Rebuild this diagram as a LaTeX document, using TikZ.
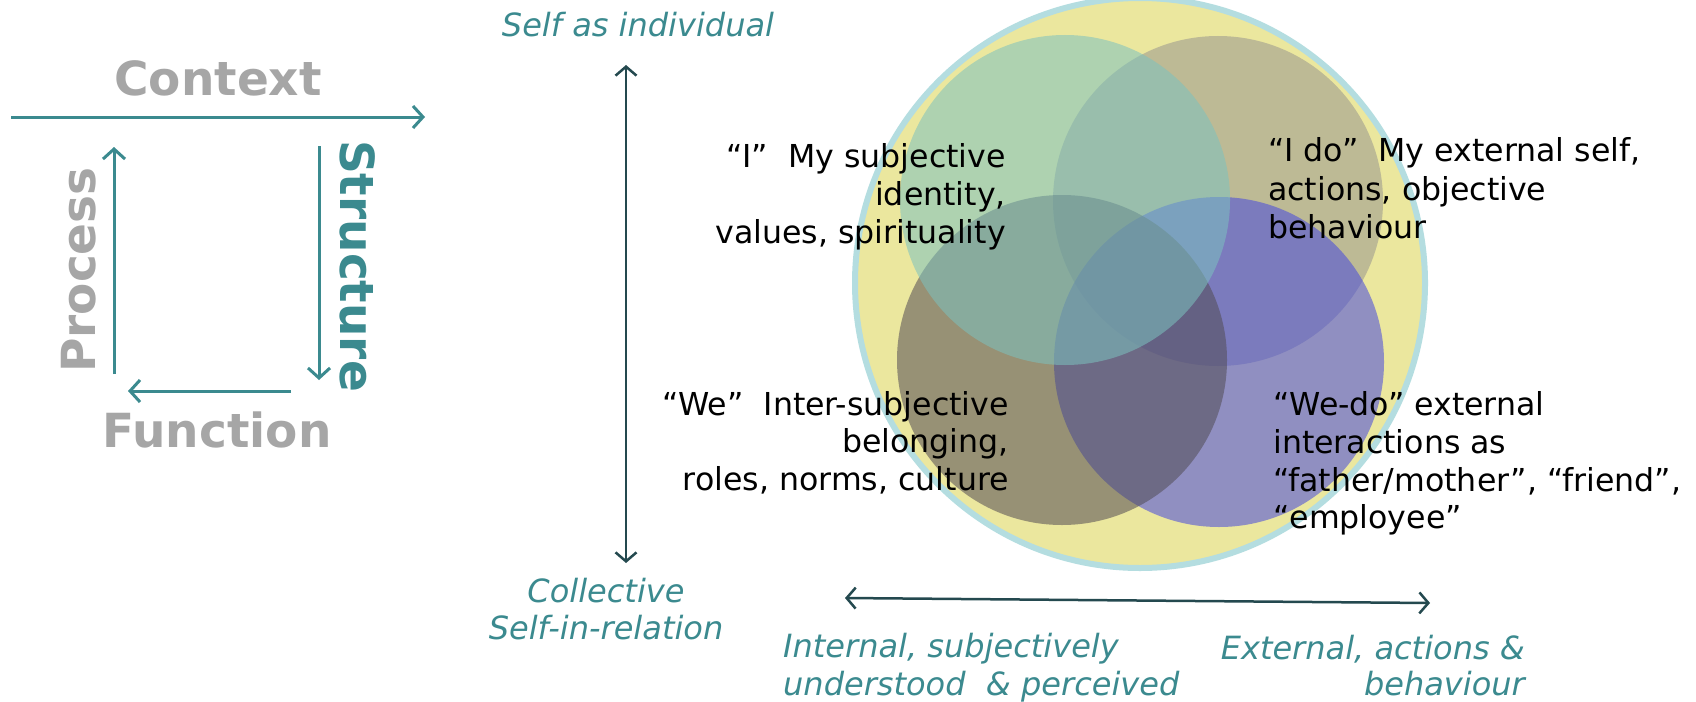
\documentclass[tikz,border=0pt]{standalone}
\usepackage{fontspec}
\setmainfont{DejaVu Sans}
\usetikzlibrary{arrows.meta}
\definecolor{tealc}{HTML}{3B8A8F}
\definecolor{grayc}{HTML}{A6A6A6}
\definecolor{darkc}{HTML}{24494F}
\definecolor{ringc}{HTML}{B4DDE0}
\definecolor{yellowc}{HTML}{EBE79E}
\definecolor{tanc}{RGB}{153,150,143}
\definecolor{purplec}{RGB}{70,72,222}
\definecolor{brownc}{RGB}{82,76,84}
\definecolor{greenc}{RGB}{124,194,191}
\begin{document}
\begin{tikzpicture}[x=1pt,y=-1pt,
  bigword/.style={font=\fontsize{47}{56}\selectfont\bfseries, inner sep=0pt},
  body/.style={font=\fontsize{31.6}{38}\selectfont, inner sep=0pt, text=black},
  axislbl/.style={font=\fontsize{32}{38}\selectfont\itshape, text=tealc, inner sep=0pt},
  tealarrow/.style={draw=tealc, line width=3pt, -{Straight Barb[length=10pt,width=22pt,line width=3pt]}},
  darkarrow/.style={draw=darkc, line width=2.5pt, {Straight Barb[length=9pt,width=21pt,line width=2.5pt]}-{Straight Barb[length=9pt,width=21pt,line width=2.5pt]}},
  venn/.style={fill opacity=0.55}
]
\useasboundingbox (0,0) rectangle (1696,701);
\fill[white] (0,0) rectangle (1696,701);

% ---- left cycle ----
\coordinate (ctxS) at (11,117);
\coordinate (ctxE) at (425,117);
\coordinate (procS) at (114,374);
\coordinate (procE) at (114,147);
\coordinate (strS) at (319,146);
\coordinate (strE) at (319,380);
\coordinate (funS) at (291,391);
\coordinate (funE) at (128,391);
\draw[tealarrow] (ctxS) -- (ctxE);
\draw[tealarrow] (procS) -- (procE);
\draw[tealarrow] (strS) -- (strE);
\draw[tealarrow] (funS) -- (funE);
\node[bigword, text=grayc, anchor=base] (context) at (218,95) {Context};
\node[bigword, text=grayc, anchor=base] (function) at (217,447) {Function};
\node[bigword, text=grayc, anchor=base, rotate=90] (process) at (95,270) {Process};
\node[bigword, text=tealc, anchor=base, rotate=-90] (structure) at (340,266) {Structure};

% ---- Venn ----
\fill[yellowc] (1140,283) circle[radius=285pt];
\draw[ringc, line width=6pt] (1140,283) circle[radius=285pt];
\fill[tanc, venn] (1218,201) circle[radius=165pt];
\fill[purplec, venn] (1219,362) circle[radius=165pt];
\fill[brownc, venn] (1062,360) circle[radius=165pt];
\fill[greenc, venn] (1065,200) circle[radius=165pt];

% ---- Venn texts ----
\node[body, anchor=base east] (i1) at (1006,167) {“I”\ \ My subjective};
\node[body, anchor=base east] (i2) at (1006,205) {identity,};
\node[body, anchor=base east] (i3) at (1006,243) {values, spirituality};

\node[body, anchor=base east] (we1) at (1009,415) {“We”\ \ Inter-subjective};
\node[body, anchor=base east] (we2) at (1009,452) {belonging,};
\node[body, anchor=base east] (we3) at (1009,490) {roles, norms, culture};

\node[body, anchor=base west] (ido1) at (1268,161) {“I do”\ \ My external self,};
\node[body, anchor=base west] (ido2) at (1268,200) {actions, objective};
\node[body, anchor=base west] (ido3) at (1268,238) {behaviour};

\node[body, anchor=base west] (wedo1) at (1273,415) {“We-do” external};
\node[body, anchor=base west] (wedo2) at (1273,453) {interactions as};
\node[body, anchor=base west] (wedo3) at (1273,491) {“father/mother”, “friend”,};
\node[body, anchor=base west] (wedo4) at (1273,528) {“employee”};

% ---- axes ----
\coordinate (vTop) at (626,65);
\coordinate (vBot) at (626,563);
\coordinate (hL) at (845,598);
\coordinate (hR) at (1430,603);
\draw[darkarrow] (vTop) -- (vBot);
\draw[darkarrow] (hL) -- (hR);

\node[axislbl, anchor=base] (selfind) at (638,37) {Self as individual};
\node[axislbl, anchor=base] (coll1) at (606,602) {Collective};
\node[axislbl, anchor=base] (coll2) at (606,639) {Self-in-relation};
\node[axislbl, anchor=base west] (int1) at (783,657) {Internal, subjectively};
\node[axislbl, anchor=base west] (int2) at (783,695) {understood\ \ \& perceived};
\node[axislbl, anchor=base east] (ext1) at (1525,659) {External, actions \&};
\node[axislbl, anchor=base east] (ext2) at (1525,695) {behaviour};
\end{tikzpicture}
\end{document}
